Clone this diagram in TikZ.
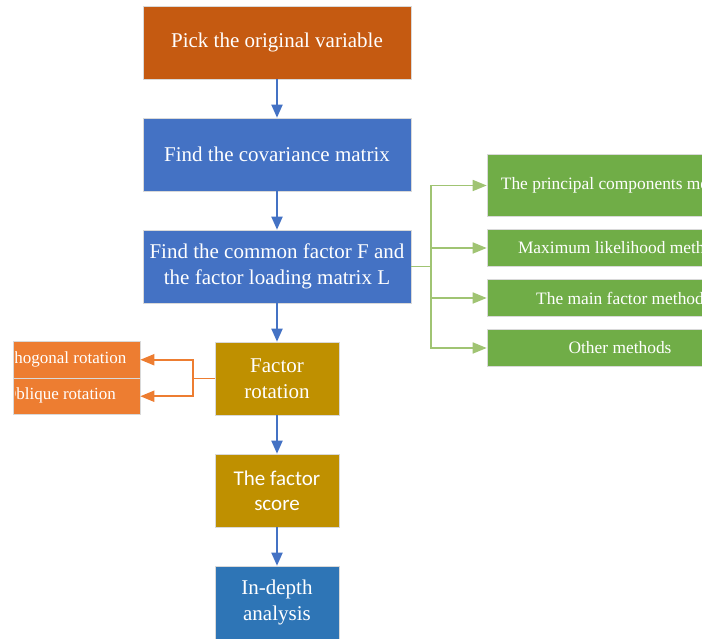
\documentclass[tikz,border=0pt]{standalone}
\usepackage{fontspec}
\setmainfont{Liberation Serif}
\newfontfamily\calibrifont{Carlito}
\usepackage{tikz}
\usetikzlibrary{
  arrows.meta,
  calc
}
\definecolor{pickbrown}{RGB}{197,90,17}
\definecolor{stepblue}{RGB}{68,114,196}
\definecolor{deepblue}{RGB}{46,117,182}
\definecolor{factorgold}{RGB}{191,144,0}
\definecolor{methodgreen}{RGB}{112,173,71}
\definecolor{linkgreen}{RGB}{160,196,115}
\definecolor{rotorange}{RGB}{237,125,49}

\tikzset{
  flowbox/.style={draw=white!85!black, line width=0.6pt, text=white, align=center,
    inner sep=0pt, font=\fontsize{21}{26}\selectfont},
  widebox/.style={flowbox, minimum width=268pt, minimum height=73pt},
  narrowbox/.style={flowbox, minimum width=124pt, minimum height=73pt},
  methodbox/.style={flowbox, fill=methodgreen, minimum width=266pt, font=\fontsize{17.4}{21}\selectfont},
  rotbox/.style={flowbox, fill=rotorange, minimum width=127pt, minimum height=36.5pt},
  bluearrow/.style={draw=stepblue, line width=1.8pt, -{Triangle[length=13pt,width=11pt]}},
  greenline/.style={draw=linkgreen, line width=1.7pt},
  orangeline/.style={draw=rotorange, line width=1.9pt}
}

\begin{document}
\begin{tikzpicture}[x=1pt, y=1pt]
  \useasboundingbox (0,0) rectangle (702,638);
  \clip (13,0) rectangle (702,638);
  % main column
  \node[widebox, fill=pickbrown] (pick) at (277,595.5) {Pick the original variable};
  \node[widebox, fill=stepblue] (covar) at (277,483.5) {Find the covariance matrix};
  \node[widebox, fill=stepblue] (common) at (277,371.5) {Find the common factor F and\\the factor loading matrix L};
  \node[narrowbox, fill=factorgold] (rotation) at (277,259.5) {Factor\\rotation};
  \node[narrowbox, fill=factorgold, font=\calibrifont\fontsize{21}{25}\selectfont] (score) at (277,147.5) {The factor\\score};
  \node[narrowbox, fill=deepblue] (analysis) at (277,35.5) {In-depth\\analysis};
  \draw[bluearrow] (pick) -- (covar);
  \draw[bluearrow] (covar) -- (common);
  \draw[bluearrow] (common) -- (rotation);
  \draw[bluearrow] (rotation) -- (score);
  \draw[bluearrow] (score) -- (analysis);
  % extraction methods
  \node[methodbox, minimum height=62pt] (pcm) at (620,452.5) {The principal components method};
  \node[methodbox, minimum height=37.5pt] (mlm) at (620,390) {Maximum likelihood method};
  \node[methodbox, minimum height=37.5pt] (mfm) at (620,340) {The main factor method};
  \node[methodbox, minimum height=37.5pt] (other) at (620,290) {Other methods};
  \coordinate (gsplit) at ($(common.east)+(20,0)$);
  \draw[greenline] (common.east) -- (gsplit);
  \foreach \m in {pcm,mlm,mfm,other}
    \draw[greenline, -{Triangle[length=14pt,width=11pt]}] (gsplit) |- (\m.west);
  % rotation types
  \node[rotbox] (orth) at (76.5,278.25) {};
  \node[rotbox] (obl) at (76.5,241.75) {};
  \begin{scope}
    \clip (15,230) rectangle (140,290);
    \node[text=white, font=\fontsize{17}{21}\selectfont] (orthtext) at (59,279) {Orthogonal rotation};
    \node[text=white, font=\fontsize{17}{21}\selectfont] (obltext) at (60,242.5) {Oblique rotation};
  \end{scope}
  \coordinate (rsplit) at ($(rotation.west)+(-22,0)$);
  \draw[orangeline] (rotation.west) -- (rsplit);
  \draw[orangeline, -{Triangle[length=14pt,width=11pt]}] (rsplit) |- (orth.east);
  \draw[orangeline, -{Triangle[length=14pt,width=11pt]}] (rsplit) |- (obl.east);
\end{tikzpicture}
\end{document}
